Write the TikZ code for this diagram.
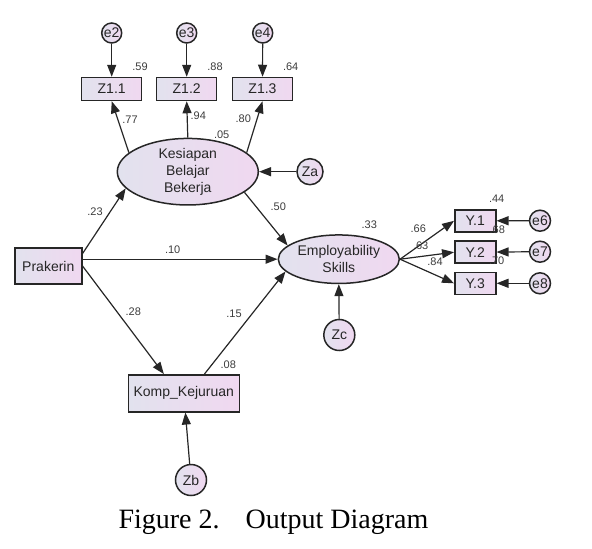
\documentclass[tikz,border=0pt]{standalone}
\usepackage{fontspec}
\setmainfont{Liberation Serif}
\setsansfont{Liberation Sans}
\usepackage{tikz}
\usetikzlibrary{arrows.meta,shapes.geometric}

\definecolor{fillL}{HTML}{E2E2EE}
\definecolor{fillR}{HTML}{F0D8F0}
\definecolor{ink}{HTML}{262626}

\tikzset{
  obsbox/.style={draw=ink, line width=1.5pt, left color=fillL, right color=fillR,
    inner sep=0pt, font=\sffamily\fontsize{14}{17}\selectfont, text=ink},
  latent/.style={obsbox, ellipse, align=center},
  errc/.style={obsbox, circle, inner sep=0pt},
  path/.style={draw=ink, line width=1.2pt, -{Triangle[length=12pt,width=9pt]}},
  coef/.style={font=\sffamily\fontsize{11}{12}\selectfont, text=ink!90, inner sep=0pt}
}

\begin{document}
\begin{tikzpicture}[x=1pt,y=-1pt]
\useasboundingbox (0,0) rectangle (592,549);

% Define the indicator boxes and error terms
\node[errc, minimum size=20pt] (e2) at (111.7,33) {e2};
\node[errc, minimum size=20pt] (e3) at (186.7,33) {e3};
\node[errc, minimum size=20pt] (e4) at (262.7,33) {e4};
\node[obsbox, minimum width=60pt, minimum height=23pt] (z11) at (111.7,89) {Z1.1};
\node[obsbox, minimum width=60pt, minimum height=23pt] (z12) at (186.7,89) {Z1.2};
\node[obsbox, minimum width=60pt, minimum height=23pt] (z13) at (262.5,89) {Z1.3};

% Latent variables
\node[latent, minimum width=141pt, minimum height=57pt] (kes) at (187.8,171.7)
  {Kesiapan\\Belajar\\Bekerja};
\node[latent, minimum width=121pt, minimum height=48.5pt] (emp) at (338.8,259.2)
  {Employability\\Skills};

% Observed exogenous and mediator
\node[obsbox, minimum width=67pt, minimum height=36pt] (prak) at (48.3,266) {Prakerin};
\node[obsbox, minimum width=111pt, minimum height=37pt] (komp) at (183.8,393.3) {Komp\_Kejuruan};

% Disturbances
\node[errc, minimum size=26pt] (za) at (310,171.7) {Za};
\node[errc, minimum size=31pt] (zb) at (191,480) {Zb};
\node[errc, minimum size=31pt] (zc) at (339.3,335) {Zc};

% Indicators of Employability Skills
\node[obsbox, minimum width=41pt, minimum height=22pt] (y1) at (475.3,220.8) {Y.1};
\node[obsbox, minimum width=41pt, minimum height=22pt] (y2) at (475.3,252.2) {Y.2};
\node[obsbox, minimum width=41pt, minimum height=22pt] (y3) at (475.3,283.3) {Y.3};
\node[errc, minimum size=21pt] (e6) at (540,220.7) {e6};
\node[errc, minimum size=21pt] (e7) at (540,251.7) {e7};
\node[errc, minimum size=21pt] (e8) at (540,283.3) {e8};

% Draw the arrows
\draw[path] (e2) -- (z11);
\draw[path] (e3) -- (z12);
\draw[path] (e4) -- (z13);
\draw[path] (kes.162) -- (z11.south);
\draw[path] (kes.north) -- (z12.south);
\draw[path] (kes.18) -- (z13.south);
\draw[path] (za) -- (kes.east);
\draw[path] (prak.20) -- (kes.195);
\draw[path] (prak.east |- emp.west) -- (emp.west);
\draw[path] (prak.east) -- (komp.136);
\draw[path] (kes.-20) -- (emp.165);
\draw[path] (komp.43) -- (emp.193);
\draw[path] (zb) -- (komp);
\draw[path] (zc) -- (emp.south);
\draw[path] (emp.east) -- (y1.west);
\draw[path] (emp.east) -- (y2.west);
\draw[path] (emp.east) -- (y3.west);
\draw[path] (e6) -- (y1);
\draw[path] (e7) -- (y2);
\draw[path] (e8) -- (y3);

% Add the estimates
\node[coef] at (140,67) {.59};
\node[coef] at (215,67) {.88};
\node[coef] at (290.7,67) {.64};
\node[coef] at (130,120) {.77};
\node[coef] at (198.3,116) {.94};
\node[coef] at (243.3,119) {.80};
\node[coef] at (221.7,135) {.05};
\node[coef] at (95,211.7) {.23};
\node[coef] at (172.7,249.3) {.10};
\node[coef] at (133.3,311.7) {.28};
\node[coef] at (234,313.3) {.15};
\node[coef] at (228.3,365) {.08};
\node[coef] at (278.3,206.7) {.50};
\node[coef] at (369.3,225) {.33};
\node[coef] at (418.3,228.3) {.66};
\node[coef] at (420.7,245.7) {.63};
\node[coef] at (435,261.7) {.84};
\node[coef] at (496.7,198.3) {.44};
\node[coef] at (497.3,230) {.68};
\node[coef] at (496.7,260.7) {.70};

% Caption
\node[anchor=base west, inner sep=0pt, font=\fontsize{28}{31}\selectfont] (fig) at (118.3,528) {Figure 2.};
\node[anchor=base west, inner sep=0pt, font=\fontsize{28}{31}\selectfont] (ttl) at (245.5,528) {Output Diagram};

\end{tikzpicture}
\end{document}
